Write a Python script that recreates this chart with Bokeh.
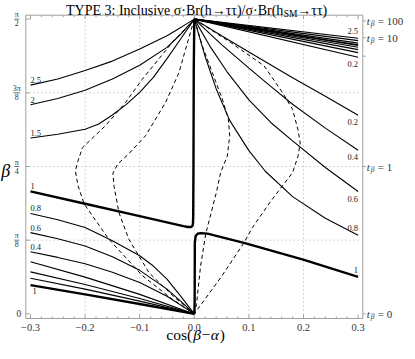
import math
from bokeh.plotting import figure
from bokeh.models import Range1d
from bokeh.embed import file_html
from bokeh.resources import INLINE
from bokeh.core.properties import value

PI = math.pi
APEX_Y = PI / 2
SERIF = "Liberation Serif"

# ---------------- tick labels ----------------
x_ticks = [-0.3, -0.2, -0.1, 0.0, 0.1, 0.2, 0.3]
x_tick_labels = ["\u22120.3", "\u22120.2", "\u22120.1", "0.0", "0.1", "0.2", "0.3"]
y_ticks = [0.0, PI / 8, PI / 4, 3 * PI / 8, PI / 2]
y_tick_labels = ["0", "\u03c0/8", "\u03c0/4", "3\u03c0/8", "\u03c0/2"]
tb_values = [0, 1, 10, 100]
tb_labels = ["0", "1", "10", "100"]
tb_unlabelled = [5]

# ---------------- contours, cos(b-a) < 0 ----------------
l25_x = [-0.3, -0.25, -0.2, -0.15, -0.1, -0.05, -0.03, -0.015, 0.0]
l25_y = [1.219, 1.252, 1.297, 1.347, 1.411, 1.482, 1.517, 1.544, APEX_Y]
l2_x = [-0.3, -0.25, -0.2, -0.15, -0.1, -0.05, -0.025, 0.0]
l2_y = [1.114, 1.148, 1.192, 1.252, 1.325, 1.420, 1.490, APEX_Y]
l15_x = [-0.3, -0.25, -0.2, -0.175, -0.15, -0.125, -0.1, -0.075, -0.05, -0.025, 0.0]
l15_y = [0.937, 0.957, 0.984, 1.012, 1.06, 1.115, 1.18, 1.26, 1.36, 1.465, APEX_Y]
l1_x = [-0.3, -0.2, -0.1, -0.02, -0.012, -0.006, -0.0035, -0.0025, -0.002, -0.0015, -0.001, 0.0]
l1_y = [0.653, 0.587, 0.521, 0.468, 0.463, 0.463, 0.468, 0.48, 0.52, 0.8, 1.3, APEX_Y]
l08_x = [-0.3, -0.25, -0.2, -0.15, -0.1, -0.075, -0.05, -0.025, 0.0]
l08_y = [0.535, 0.502, 0.46, 0.39, 0.31, 0.255, 0.185, 0.095, 0.0]
l06_x = [-0.3, -0.25, -0.2, -0.15, -0.1, -0.05, -0.025, 0.0]
l06_y = [0.433, 0.400, 0.362, 0.305, 0.232, 0.132, 0.068, 0.0]
l04_x = [-0.3, -0.25, -0.2, -0.15, -0.1, -0.05, 0.0]
l04_y = [0.331, 0.301, 0.267, 0.222, 0.167, 0.094, 0.0]
low_x = [-0.3, -0.2, -0.1, 0.0]
low_a_y = [0.2774, 0.196, 0.104, 0.0]
low_b_y = [0.2241, 0.157, 0.082, 0.0]
low_c_y = [0.1904, 0.132, 0.068, 0.0]
low1_y = [0.153, 0.104, 0.053, 0.0]

# ---------------- contours, cos(b-a) > 0 ----------------
fan_values = ["2.5", "2", "1.5", "1", "0.8", "0.6", "0.4", "0.2"]
fan_end_y = [1.469, 1.456, 1.443, 1.432, 1.421, 1.408, 1.392, 1.368]
r02_x = [0.0, 0.05, 0.1, 0.18, 0.24, 0.3]
r02_y = [APEX_Y, 1.482, 1.396, 1.258, 1.16, 1.0588]
r04_x = [0.0, 0.05, 0.1, 0.14, 0.18, 0.24, 0.3]
r04_y = [APEX_Y, 1.435, 1.31, 1.212, 1.117, 0.99, 0.872]
r06_x = [0.0, 0.03, 0.06, 0.1, 0.14, 0.18, 0.24, 0.3]
r06_y = [APEX_Y, 1.42, 1.29, 1.14, 1.02, 0.922, 0.78, 0.652]
r08_x = [0.0, 0.02, 0.04, 0.065, 0.1, 0.13, 0.18, 0.24, 0.3]
r08_y = [APEX_Y, 1.37, 1.20, 1.03, 0.87, 0.76, 0.625, 0.51, 0.419]
r1_x = [0.0, 0.0006, 0.0008, 0.001, 0.0025, 0.006, 0.0116, 0.024, 0.091, 0.201, 0.3]
r1_y = [0.0, 0.05, 0.2, 0.38, 0.415, 0.427, 0.4305, 0.428, 0.378, 0.288, 0.1975]

# ---------------- dashed curves ----------------
dash_ol_x = [0.0, -0.0404, -0.0954, -0.126, -0.163, -0.205, -0.2147, -0.2177, -0.2129, -0.2015, -0.1787, -0.1565, -0.0954, -0.0404, 0.0]
dash_ol_y = [APEX_Y, 1.446, 1.25, 1.126, 1.002, 0.885, 0.80, 0.76, 0.682, 0.585, 0.49, 0.398, 0.2046, 0.0783, 0.0]
dash_il_x = [0.0, -0.016, -0.028, -0.0527, -0.0894, -0.121, -0.14, -0.149, -0.147, -0.138, -0.12, -0.083, -0.04, 0.0]
dash_il_y = [APEX_Y, 1.41, 1.286, 1.126, 0.949, 0.85, 0.80, 0.75, 0.68, 0.54, 0.398, 0.22, 0.098, 0.0]
dash_ir_x = [0.0, 0.0147, 0.033, 0.0514, 0.0624, 0.0648, 0.0605, 0.0483, 0.0404, 0.0208, 0.0113, 0.004, 0.0]
dash_ir_y = [APEX_Y, 1.428, 1.286, 1.144, 1.0375, 0.9487, 0.842, 0.7533, 0.647, 0.4246, 0.25, 0.05, 0.0]
dash_or_x = [0.0, 0.0667, 0.1278, 0.1615, 0.18, 0.19, 0.194, 0.19, 0.18, 0.14, 0.1064, 0.0912, 0.05, 0.0]
dash_or_y = [APEX_Y, 1.446, 1.3217, 1.1796, 1.09, 0.98, 0.91, 0.84, 0.753, 0.6, 0.46, 0.3804, 0.2, 0.0]

# ---------------- frame geometry (plot box inside a full-canvas frame) ----------------
W, H = 405, 343
X0, X1 = -0.3086, 0.3086
Y0, Y1 = -0.0245, 1.5916
BOX_W, BOX_H = 337.0, 303.3
PAD_L, PAD_T = 25.3, 14.7
SX = BOX_W / (X1 - X0)
SY = BOX_H / (Y1 - Y0)
XL = X0 - PAD_L / SX
XR = X1 + (W - PAD_L - BOX_W) / SX
YT = Y1 + PAD_T / SY
YB = Y0 - (H - PAD_T - BOX_H) / SY

p = figure(width=W, height=H, output_backend="svg", toolbar_location=None,
           x_range=Range1d(XL, XR), y_range=Range1d(YB, YT), min_border=0,
           x_axis_location=None, y_axis_location=None)
p.outline_line_color = None
p.grid.grid_line_color = None
p.background_fill_color = "white"
p.border_fill_color = "white"

AX = "#a0a0a0"
LAB = "#333333"

# grid (dotted)
gx = [-0.2, -0.1, 0.0, 0.1, 0.2]
gy = [PI / 8, PI / 4, 3 * PI / 8]
p.segment(x0=gx, y0=[Y0] * len(gx), x1=gx, y1=[Y1] * len(gx),
          line_color="#b0b0b0", line_width=1, line_dash="1 3")
p.segment(x0=[X0] * len(gy), y0=gy, x1=[X1] * len(gy), y1=gy,
          line_color="#b0b0b0", line_width=1, line_dash="1 3")

# frame box
p.line([X0, X1, X1, X0, X0], [Y0, Y0, Y1, Y1, Y0], line_color=AX, line_width=1)

# ticks
MAJ, MIN = 4.0, 2.0
minor_x = [round(-0.3 + 0.02 * i, 2) for i in range(31)]
minor_x = [m for m in minor_x if all(abs(m - t) > 1e-9 for t in x_ticks)]
for xs, L in [(x_ticks, MAJ), (minor_x, MIN)]:
    n = len(xs)
    p.segment(x0=xs, y0=[Y0] * n, x1=xs, y1=[Y0 + L / SY] * n, line_color=AX, line_width=1)
    p.segment(x0=xs, y0=[Y1] * n, x1=xs, y1=[Y1 - L / SY] * n, line_color=AX, line_width=1)
p.segment(x0=[X0] * len(y_ticks), y0=y_ticks, x1=[X0 + MAJ / SX] * len(y_ticks), y1=y_ticks,
          line_color=AX, line_width=1)
tb_ticks = [math.atan(v) for v in tb_values]
tb_all = tb_ticks + [math.atan(v) for v in tb_unlabelled]
p.segment(x0=[X1] * len(tb_all), y0=tb_all, x1=[X1 + 3.0 / SX] * len(tb_all), y1=tb_all,
          line_color=AX, line_width=1)

# bottom tick labels
p.text(x=x_ticks, y=[Y0] * len(x_ticks), text=x_tick_labels, text_font=value(SERIF),
       text_font_size="10.5px", text_color=LAB, text_align="center", text_baseline="middle",
       y_offset=9)

# left tick labels as stacked fractions
for t, lab in zip(y_ticks, y_tick_labels):
    if "/" in lab:
        num, den = lab.split("/")
        p.text(x=[X0], y=[t], text=[num], text_font=value(SERIF), text_font_size="8px",
               text_color=LAB, text_align="center", text_baseline="bottom", x_offset=-9, y_offset=0)
        p.text(x=[X0], y=[t], text=[den], text_font=value(SERIF), text_font_size="8px",
               text_color=LAB, text_align="center", text_baseline="top", x_offset=-9, y_offset=1)
        half = (3.5 if len(num) > 1 else 2.5) / SX
        p.segment(x0=[X0 - 9 / SX - half], y0=[t], x1=[X0 - 9 / SX + half], y1=[t],
                  line_color=LAB, line_width=0.7)
    else:
        p.text(x=[X0], y=[t], text=[lab], text_font=value(SERIF), text_font_size="9.5px",
               text_color=LAB, text_align="center", text_baseline="middle", x_offset=-7)

# right tick labels  t_beta = ...
n = len(tb_ticks)
p.text(x=[X1] * n, y=tb_ticks, text=["t"] * n, text_font=value(SERIF), text_font_style="italic",
       text_font_size="11px", text_color=LAB, text_align="left", text_baseline="middle", x_offset=4)
p.text(x=[X1] * n, y=tb_ticks, text=["\u03b2"] * n, text_font=value(SERIF), text_font_style="italic",
       text_font_size="7.5px", text_color=LAB, text_align="left", text_baseline="middle",
       x_offset=8, y_offset=3)
p.text(x=[X1] * n, y=tb_ticks, text=["= " + s for s in tb_labels], text_font=value(SERIF),
       text_font_size="11px", text_color=LAB, text_align="left", text_baseline="middle", x_offset=15)

# ---------------- contours ----------------
THIN, THICK, K = 1.1, 2.4, "black"
for xs, ys in [(l25_x, l25_y), (l2_x, l2_y), (l15_x, l15_y), (l08_x, l08_y),
               (l06_x, l06_y), (l04_x, l04_y), (low_x, low_a_y), (low_x, low_b_y),
               (low_x, low_c_y), (r02_x, r02_y), (r04_x, r04_y), (r06_x, r06_y),
               (r08_x, r08_y)]:
    p.line(xs, ys, line_color=K, line_width=THIN)
for xs, ys in [(l1_x, l1_y), (low_x, low1_y), (r1_x, r1_y)]:
    p.line(xs, ys, line_color=K, line_width=THICK)
for v, ye in zip(fan_values, fan_end_y):
    p.line([0.0, 0.3], [APEX_Y, ye], line_color=K, line_width=(1.6 if v == "1" else THIN))
for xs, ys in [(dash_ol_x, dash_ol_y), (dash_il_x, dash_il_y),
               (dash_ir_x, dash_ir_y), (dash_or_x, dash_or_y)]:
    p.line(xs, ys, line_color=K, line_width=1.0, line_dash="4 3")

# contour labels
FS = "8.5px"
LC = "#222222"
left_lab_text = ["2.5", "2", "1.5", "1", "0.8", "0.6", "0.4"]
left_lab_y = [l25_y[0], l2_y[0], l15_y[0], l1_y[0], l08_y[0], l06_y[0], l04_y[0]]
p.text(x=[-0.3] * len(left_lab_text), y=left_lab_y, text=left_lab_text,
       text_font=value(SERIF), text_font_size=FS, text_color=LC,
       text_align="left", text_baseline="bottom", y_offset=-2)
p.text(x=[-0.3], y=[low1_y[0]], text=["1"], text_font=value(SERIF), text_font_size=FS,
       text_color=LC, text_align="left", text_baseline="top", y_offset=3, x_offset=2)
right_below_text = ["0.2", "0.2", "0.4", "0.6"]
right_below_y = [fan_end_y[-1], r02_y[-1], r04_y[-1], r06_y[-1]]
p.text(x=[0.3] * 4, y=right_below_y, text=right_below_text, text_font=value(SERIF),
       text_font_size=FS, text_color=LC, text_align="right", text_baseline="top", y_offset=4)
right_above_text = ["2.5", "0.8", "1"]
right_above_y = [fan_end_y[0], r08_y[-1], r1_y[-1]]
p.text(x=[0.3] * 3, y=right_above_y, text=right_above_text, text_font=value(SERIF),
       text_font_size=FS, text_color=LC, text_align="right", text_baseline="bottom", y_offset=-4)

# ---------------- title ----------------
title_main = "TYPE 3: Inclusive \u03c3\u00b7Br(h\u2192\u03c4\u03c4)/\u03c3\u00b7Br(h"
title_sub = "SM"
title_end = "\u2192\u03c4\u03c4)"
p.text(x=[0.0], y=[Y1], text=[title_main], text_font=value(SERIF), text_font_size="14px",
       text_color="black", text_align="right", text_baseline="alphabetic", x_offset=89, y_offset=-4.5)
p.text(x=[0.0], y=[Y1], text=[title_sub], text_font=value(SERIF), text_font_size="9.5px",
       text_color="black", text_align="left", text_baseline="alphabetic", x_offset=89.5, y_offset=-1.5)
p.text(x=[0.0], y=[Y1], text=[title_end], text_font=value(SERIF), text_font_size="14px",
       text_color="black", text_align="left", text_baseline="alphabetic", x_offset=103, y_offset=-4.5)

# ---------------- axis labels ----------------
xlab_parts = ["cos(", "\u03b2", "\u2212", "\u03b1", ")"]
xlab_style = ["normal", "italic", "normal", "italic", "normal"]
xlab_dx = [-28, -1, 7.5, 16.5, 25.5]
for s, st, dx in zip(xlab_parts, xlab_style, xlab_dx):
    p.text(x=[0.0], y=[Y0], text=[s], text_font=value(SERIF), text_font_style=st,
           text_font_size="15.5px", text_color="black", text_align="left",
           text_baseline="middle", x_offset=dx, y_offset=12 + 4)
p.text(x=[X0], y=[PI / 4], text=["\u03b2"], text_font=value(SERIF), text_font_style="italic",
       text_font_size="18px", text_color="black", text_align="center", text_baseline="middle",
       x_offset=-20, y_offset=4)

open("out.html", "w").write(file_html(p, INLINE))
